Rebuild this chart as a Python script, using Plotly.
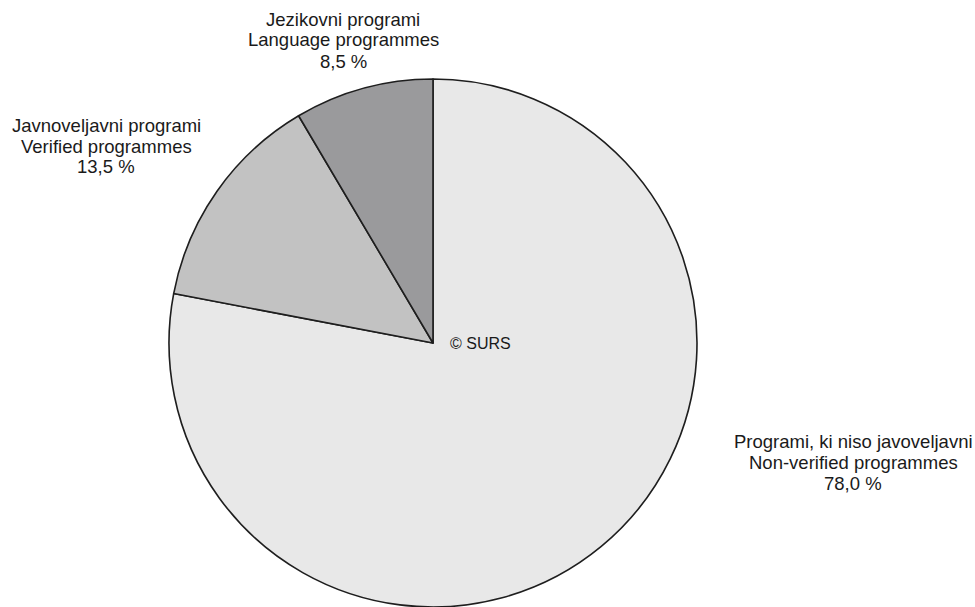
import plotly.graph_objects as go

categories_sl = ["Programi, ki niso javoveljavni", "Javnoveljavni programi", "Jezikovni programi"]
categories_en = ["Non-verified programmes", "Verified programmes", "Language programmes"]
shares = [78.0, 13.5, 8.5]
colors = ["#e8e8e8", "#c2c2c2", "#9a9a9c"]

W, H = 975, 607

# label anchor positions (pixels, centre of block / first line)
label_x = [853, 106, 343]
label_y = [441, 125, 19]
line_gap = 21

cx, cy, r = 433, 343, 264

fig = go.Figure()
fig.add_trace(go.Pie(
    values=shares,
    labels=categories_en,
    marker=dict(colors=colors, line=dict(color="#1e1e1e", width=1.6)),
    sort=False,
    direction="clockwise",
    rotation=0,
    textinfo="none",
    hoverinfo="label+percent",
    showlegend=False,
    domain=dict(x=[(cx - r) / W, (cx + r) / W], y=[max(0, (H - cy - r) / H), min(1, (H - cy + r) / H)]),
))

font = dict(family="Liberation Sans, Arial, sans-serif", size=18.5, color="#1a1a1a")
for i in range(len(shares)):
    lines = [categories_sl[i], categories_en[i], f"{shares[i]:.1f} %".replace(".", ",")]
    for j, t in enumerate(lines):
        fig.add_annotation(
            x=label_x[i] / W, y=1 - (label_y[i] + j * line_gap) / H,
            xref="paper", yref="paper", text=t, showarrow=False,
            xanchor="center", yanchor="middle", font=font,
        )

fig.add_annotation(
    x=448 / W, y=1 - 343 / H, xref="paper", yref="paper", text="© SURS",
    showarrow=False, xanchor="left", yanchor="middle",
    font=dict(family="Liberation Sans, Arial, sans-serif", size=16, color="#1a1a1a"),
)

fig.update_layout(
    width=W, height=H,
    margin=dict(l=0, r=0, t=0, b=0),
    paper_bgcolor="white", plot_bgcolor="white",
)

fig.write_html(
    "out.html",
    config={"displayModeBar": False},
    post_script="document.body.style.margin='0';document.body.style.overflow='hidden';",
)
